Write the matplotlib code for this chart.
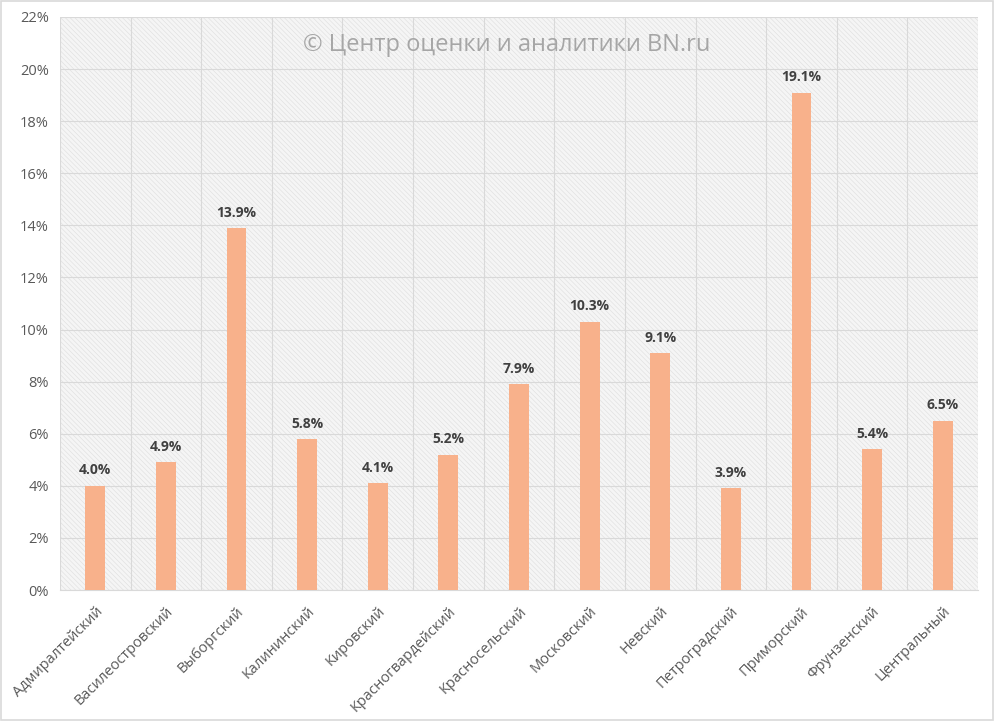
import matplotlib
matplotlib.use("Agg")
import matplotlib.pyplot as plt
from matplotlib.patches import Rectangle
from matplotlib.ticker import MultipleLocator, FuncFormatter
import numpy as np

plt.rcParams["font.family"] = ["Open Sans", "DejaVu Sans"]
plt.rcParams["hatch.linewidth"] = 0.45

districts = ["Адмиралтейский", "Василеостровский", "Выборгский", "Калининский",
             "Кировский", "Красногвардейский", "Красносельский", "Московский",
             "Невский", "Петроградский", "Приморский", "Фрунзенский", "Центральный"]
shares = [4.0, 4.9, 13.9, 5.8, 4.1, 5.2, 7.9, 10.3, 9.1, 3.9, 19.1, 5.4, 6.5]

BAR = "#F8B18B"
GRID = "#d9d9d9"
TXT = "#595959"

fig = plt.figure(figsize=(9.94, 7.21), dpi=100)
ax = fig.add_axes([60 / 994, 131 / 721, 918 / 994, 573 / 721])

# hatched grey plot area (fine diagonal texture)
bg = Rectangle((0, 0), 1, 1, transform=ax.transAxes, facecolor="#f5f5f5",
               edgecolor="#e0e0e0", hatch="\\" * 7, linewidth=0, zorder=0)
ax.add_patch(bg)
ax.patch.set_alpha(0)

x = np.arange(len(districts))
ax.bar(x, shares, width=0.28, color=BAR, zorder=3)

for xi, v in zip(x, shares):
    ax.annotate(f"{v:.1f}%", (xi, v), xytext=(0, 6), textcoords="offset points",
                ha="center", va="bottom", fontsize=10, fontweight="bold",
                color="#404040", zorder=4)

ax.set_xlim(-0.5, len(districts) - 0.5)
ax.set_ylim(0, 22)
ax.yaxis.set_major_locator(MultipleLocator(2))
ax.yaxis.set_major_formatter(FuncFormatter(lambda v, p: f"{v:.0f}%"))
ax.set_xticks(x)
ax.set_xticklabels(districts, rotation=45, ha="right", rotation_mode="anchor",
                   fontsize=10.5, color=TXT)
ax.set_xticks(np.arange(-0.5, len(districts)), minor=True)
ax.tick_params(axis="y", labelsize=10.5, labelcolor=TXT, length=0, pad=8)
ax.tick_params(axis="x", which="both", length=0, pad=10)
ax.grid(axis="y", which="major", color=GRID, linewidth=0.8, zorder=1)
ax.grid(axis="x", which="minor", color=GRID, linewidth=0.8, zorder=1)
for s in ["top", "left", "right"]:
    ax.spines[s].set_visible(False)
ax.spines["bottom"].set_color(GRID)
ax.spines["bottom"].set_linewidth(0.8)
ax.set_axisbelow(True)

ax.text(0.487, 0.952, "© Центр оценки и аналитики BN.ru", transform=ax.transAxes,
        ha="center", va="center", fontsize=17, color="#a6a6a6", zorder=2)

fig.patches.append(Rectangle((0.001, 0.001), 0.998, 0.998, transform=fig.transFigure,
                             fill=False, edgecolor="#d9d9d9", linewidth=1.2))

fig.savefig("out.png", dpi=100)
